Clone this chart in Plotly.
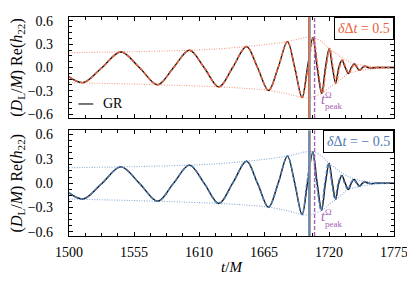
import plotly.graph_objects as go

# ---- data ----
t_gr = [1500, 1512.2, 1528.0, 1543.9, 1559.5, 1575.1, 1588.5, 1601.9, 1614.3, 1626.8,
        1638.5, 1650.2, 1659.5, 1668.8, 1677.0, 1684.8, 1691.0, 1697.2, 1701.8, 1706.3,
        1710.0, 1713.8, 1717.0, 1720.1, 1722.9, 1725.6, 1728.3, 1730.9, 1733.7, 1736.4,
        1738.9, 1741.3, 1743.7, 1746.0, 1748.3, 1750.5, 1753.0, 1756.0, 1760.0, 1765.0,
        1770.0, 1775.0]
h_gr = [-0.12, -0.194, 0.0, 0.200, 0.0, -0.222, 0.0, 0.222, 0.0, -0.250,
        0.0, 0.270, 0.0, -0.296, 0.0, 0.333, 0.0, -0.386, 0.0, 0.383,
        0.0, -0.333, 0.0, 0.243, 0.0, -0.200, 0.0, 0.095, 0.0, -0.078,
        0.0, 0.046, 0.0, -0.037, 0.0, 0.015, 0.0, -0.006, 0.0, 0.0,
        0.0, 0.0]

t_env = [1500, 1544, 1575, 1602, 1627, 1650, 1669, 1685, 1697, 1703, 1708, 1714,
         1720, 1726, 1731, 1736, 1741, 1746, 1752, 1758, 1765, 1775]
env_up = [0.19, 0.200, 0.21, 0.222, 0.24, 0.270, 0.30, 0.335, 0.375, 0.390, 0.38, 0.33,
          0.245, 0.18, 0.125, 0.085, 0.055, 0.035, 0.02, 0.012, 0.006, 0.003]
env_lo = [-0.195, -0.21, -0.222, -0.235, -0.250, -0.27, -0.296, -0.34, -0.386, -0.392, -0.37, -0.333,
          -0.26, -0.200, -0.14, -0.078, -0.058, -0.037, -0.025, -0.016, -0.008, -0.003]

t_peak_gr = 1703.6
t_peak_mod = [1702.7, 1703.0]
t_peak_omega = 1707.8
ddt = [0.5, -0.5]
panel_labels = ["<i>δ</i>Δ<i>t</i> = 0.5", "<i>δ</i>Δ<i>t</i> = − 0.5"]

x_ticks = [1500, 1555, 1610, 1665, 1720, 1775]
y_ticks = [-0.6, -0.3, 0.0, 0.3, 0.6]
y_ticktext = ["−0.6", "−0.3", "0.0", "0.3", "0.6"]

colors = ["#e8613c", "#4d79b3"]
env_colors = ["#f39c85", "#8aaad6"]
purple = "#a862b3"
FONT = "Liberation Serif"

fig = go.Figure()
for i in range(2):
    xa = "x" if i == 0 else "x2"
    ya = "y" if i == 0 else "y2"
    for env in (env_up, env_lo):
        fig.add_trace(go.Scatter(x=t_env, y=env, mode="lines", xaxis=xa, yaxis=ya,
                                 line=dict(color=env_colors[i], width=1.1, dash="1px,1.5px",
                                           shape="spline"),
                                 showlegend=False, hoverinfo="skip"))
    fig.add_trace(go.Scatter(x=t_gr, y=h_gr, mode="lines", xaxis=xa, yaxis=ya,
                             line=dict(color="#111111", width=1.4, shape="spline", smoothing=1.0),
                             showlegend=False))
    t_mod = [t + (ddt[i] if t > 1700 else 0.0) for t in t_gr]
    fig.add_trace(go.Scatter(x=t_mod, y=h_gr, mode="lines", xaxis=xa, yaxis=ya,
                             line=dict(color=colors[i], width=1.5, dash="4px,2px",
                                       shape="spline", smoothing=1.0),
                             showlegend=False))
    yref = "y" if i == 0 else "y2"
    xref = "x" if i == 0 else "x2"
    fig.add_shape(type="line", xref=xref, yref=yref, x0=t_peak_gr, x1=t_peak_gr,
                  y0=-0.65, y1=0.65, line=dict(color="#9a9a9a", width=2.6))
    fig.add_shape(type="line", xref=xref, yref=yref, x0=t_peak_mod[i], x1=t_peak_mod[i],
                  y0=-0.65, y1=0.65, line=dict(color=colors[i], width=1.1))
    fig.add_shape(type="line", xref=xref, yref=yref, x0=t_peak_omega, x1=t_peak_omega,
                  y0=-0.65, y1=0.65, line=dict(color=purple, width=1.4, dash="4px,2px"))
    fig.add_annotation(x=1711.5, y=-0.41, xref=xref, yref=yref, text="<i>t</i>",
                       showarrow=False, xanchor="left", yanchor="middle",
                       font=dict(family=FONT, size=14, color=purple))
    fig.add_annotation(x=1715.0, y=-0.35, xref=xref, yref=yref, text="Ω",
                       showarrow=False, xanchor="left", yanchor="middle",
                       font=dict(family=FONT, size=9, color=purple))
    fig.add_annotation(x=1714.8, y=-0.50, xref=xref, yref=yref, text="peak",
                       showarrow=False, xanchor="left", yanchor="middle",
                       font=dict(family=FONT, size=9, color=purple))
    fig.add_annotation(x=1, y=1, xref="x domain" if i == 0 else "x2 domain",
                       yref="y domain" if i == 0 else "y2 domain",
                       text=panel_labels[i], showarrow=False, xanchor="right", yanchor="top",
                       font=dict(family=FONT, size=14, color=colors[i]),
                       bordercolor="black", borderwidth=1, borderpad=3, bgcolor="white")

# GR legend
fig.add_shape(type="line", xref="x", yref="y", x0=1508, x1=1520.5, y0=-0.47, y1=-0.47,
              line=dict(color="#555555", width=1.6))
fig.add_annotation(x=1527, y=-0.47, xref="x", yref="y", text="GR", showarrow=False,
                   xanchor="left", yanchor="middle", font=dict(family=FONT, size=14, color="black"))

axis_common = dict(showline=True, linecolor="black", linewidth=1.2, mirror="ticks",
                   ticks="inside", ticklen=4, tickwidth=1, tickcolor="black",
                   showgrid=False, zeroline=False,
                   tickfont=dict(family=FONT, size=14, color="black"))
xminor = dict(dtick=13.75, tick0=1500, ticklen=2.5, ticks="inside", tickcolor="black")
yminor = dict(dtick=0.075, tick0=0, ticklen=2.5, ticks="inside", tickcolor="black")

ytitle = "(<i>D</i><sub>L</sub>/<i>M</i>) Re(<i>h</i><sub>22</sub>)"
ytitle_font = dict(family=FONT, size=16, color="black")
fig.update_layout(
    width=407, height=270,
    margin=dict(l=54, r=21, t=6, b=36),
    plot_bgcolor="white", paper_bgcolor="white",
    showlegend=False,
    xaxis=dict(axis_common, range=[1500, 1775], tickvals=x_ticks, showticklabels=False,
               anchor="y", minor=xminor),
    xaxis2=dict(axis_common, range=[1500, 1775], tickvals=x_ticks, anchor="y2",
                matches="x", minor=xminor, ticklabelstandoff=3,
                title=dict(text="<i>t</i>/<i>M</i>", font=dict(family=FONT, size=15, color="black"),
                           standoff=2)),
    yaxis=dict(axis_common, range=[-0.65, 0.65], tickvals=y_ticks, ticktext=y_ticktext,
               domain=[0.539, 1.0], anchor="x", minor=yminor, ticklabelstandoff=12,
               title=dict(text=ytitle, font=ytitle_font, standoff=2)),
    yaxis2=dict(axis_common, range=[-0.65, 0.65], tickvals=y_ticks, ticktext=y_ticktext,
                domain=[0.0, 0.4825], anchor="x2", minor=yminor, ticklabelstandoff=12,
                title=dict(text=ytitle, font=ytitle_font, standoff=2)),
)

fig.write_html("out.html")
